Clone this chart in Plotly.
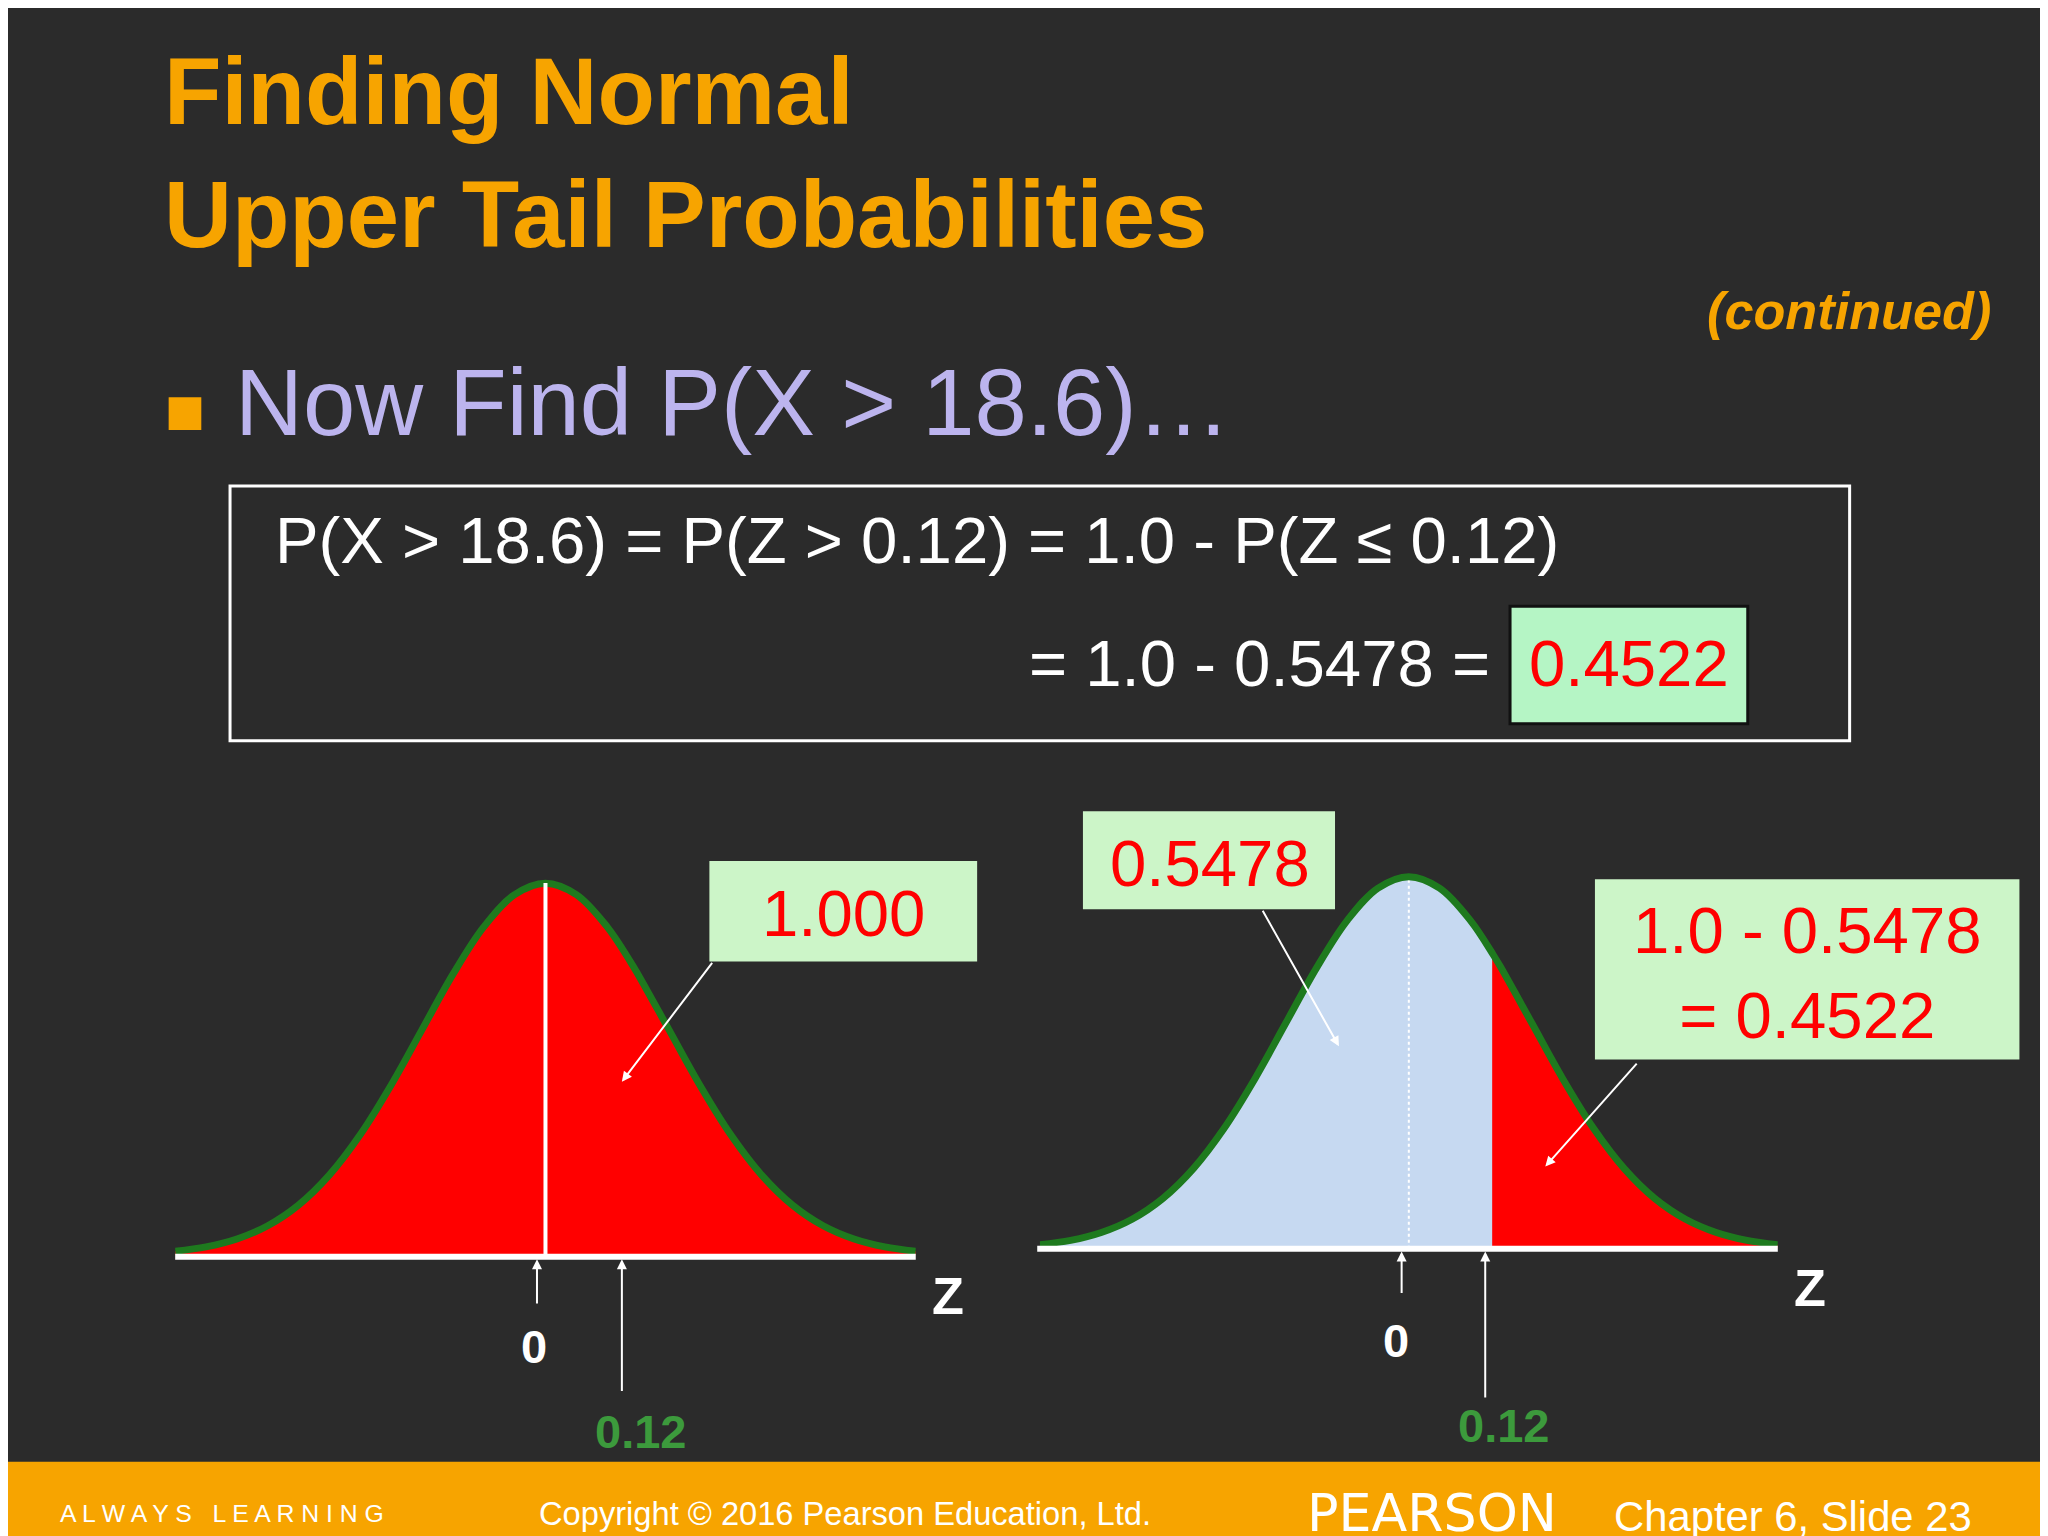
import plotly.graph_objects as go

# schematic standard-normal curve (z, density)
z_vals = [-3.0,-2.75,-2.5,-2.25,-2.0,-1.75,-1.5,-1.25,-1.0,-0.75,-0.5,-0.25,0.0,0.25,0.5,0.69,0.75,1.0,1.25,1.5,1.75,2.0,2.25,2.5,2.75,3.0]
dens = [0.00443,0.00909,0.01753,0.03174,0.05399,0.08628,0.12952,0.18265,0.24197,0.30114,0.35207,0.38667,0.39894,0.38667,0.35207,0.3144,0.30114,0.24197,0.18265,0.12952,0.08628,0.05399,0.03174,0.01753,0.00909,0.00443]
cut_z = 0.69          # schematic position of z = 0.12 in the sketch
cut_label = "0.12"
left_prob = "1.000"
lower_prob = "0.5478"
upper_text = "1.0 - 0.5478<br>= 0.4522"

W, H = 1568, 1176
S = 2048 / W
def px(x): return x / W
def py(y): return 1 - y / H

BG = "#2b2b2b"; ORANGE = "#F7A400"; RED = "#FF0000"; GREEN = "#1E7A1E"
LBLUE = "#C6D9F1"; CALL = "#CCF5C8"; FONT = "Liberation Sans, Arial"

fig = go.Figure()
lo = [(z, d) for z, d in zip(z_vals, dens) if z <= cut_z]
hi = [(z, d) for z, d in zip(z_vals, dens) if z >= cut_z]

# left chart
fig.add_trace(go.Scatter(x=z_vals, y=dens, fill="tozeroy", fillcolor=RED, mode="lines",
                         line=dict(color=GREEN, width=7, shape="spline"), xaxis="x", yaxis="y"))
fig.add_trace(go.Scatter(x=[0, 0], y=[0, 0.399], mode="lines", line=dict(color="white", width=4),
                         xaxis="x", yaxis="y"))
# right chart
fig.add_trace(go.Scatter(x=[p[0] for p in lo], y=[p[1] for p in lo], fill="tozeroy", fillcolor=LBLUE,
                         mode="lines", line=dict(color=LBLUE, width=0, shape="spline"), xaxis="x2", yaxis="y2"))
fig.add_trace(go.Scatter(x=[p[0] for p in hi], y=[p[1] for p in hi], fill="tozeroy", fillcolor=RED,
                         mode="lines", line=dict(color=RED, width=0, shape="spline"), xaxis="x2", yaxis="y2"))
fig.add_trace(go.Scatter(x=[cut_z, cut_z], y=[0, 0.3144], mode="lines", line=dict(color=RED, width=3),
                         xaxis="x2", yaxis="y2"))
fig.add_trace(go.Scatter(x=[0, 0], y=[0, 0.399], mode="lines", line=dict(color="white", width=2, dash="dot"),
                         xaxis="x2", yaxis="y2"))
fig.add_trace(go.Scatter(x=z_vals, y=dens, mode="lines", line=dict(color=GREEN, width=7, shape="spline"),
                         xaxis="x2", yaxis="y2"))

ax = dict(visible=False, range=[-3, 3], fixedrange=True)
fig.update_layout(
    width=2048, height=1536, paper_bgcolor=BG, plot_bgcolor="rgba(0,0,0,0)", showlegend=False,
    margin=dict(l=0, r=0, t=0, b=0),
    xaxis=dict(ax, domain=[px(128), px(695)]),
    yaxis=dict(visible=False, range=[0, 0.42], domain=[py(955), py(655)]),
    xaxis2=dict(ax, domain=[px(790), px(1355)]),
    yaxis2=dict(visible=False, range=[0, 0.42], domain=[py(950), py(650)]),
)

shapes = []
def rect(x0, y0, x1, y1, fill="rgba(0,0,0,0)", line="rgba(0,0,0,0)", lw=0):
    shapes.append(dict(type="rect", xref="paper", yref="paper", x0=px(x0), x1=px(x1), y0=py(y1), y1=py(y0),
                       fillcolor=fill, line=dict(color=line, width=lw), layer="above"))
def line(x0, y0, x1, y1, color="white", lw=6):
    shapes.append(dict(type="line", xref="paper", yref="paper", x0=px(x0), x1=px(x1), y0=py(y0), y1=py(y1),
                       line=dict(color=color, width=lw), layer="above"))
# axes
line(128, 956, 695, 956); line(788, 950, 1355, 950)
rect(123, 298, 148, 323, fill=ORANGE)
rect(170, 366, 1410, 561, line="white", lw=3)
rect(1150, 458, 1332, 548, fill="#B5F5C5", line="#111", lw=3)
rect(537, 653, 742, 730, fill=CALL)
rect(823, 615, 1016, 690, fill=CALL)
rect(1215, 667, 1540, 805, fill=CALL)
rect(0, 1113, 1568, 1176, fill=ORANGE)
fig.update_layout(shapes=shapes)

ann = []
def text(x, y, t, size, color="white", bold=False, xanchor="left", italic=False, family=FONT):
    if bold: t = f"<b>{t}</b>"
    if italic: t = f"<i>{t}</i>"
    ann.append(dict(xref="paper", yref="paper", x=px(x), y=py(y), text=t, showarrow=False, xanchor=xanchor,
                    yanchor="middle", font=dict(size=size * S, color=color, family=family)))
def arrow(x0, y0, x1, y1):
    ann.append(dict(xref="paper", yref="paper", axref="pixel", ayref="pixel", x=px(x1), y=py(y1),
                    ax=(x0 - x1) * S, ay=(y0 - y1) * S, text="", showarrow=True, arrowhead=2,
                    arrowsize=1, arrowwidth=2, arrowcolor="white"))

text(118, 64, "Finding Normal", 72, ORANGE, bold=True)
text(118, 158, "Upper Tail Probabilities", 72, ORANGE, bold=True)
text(1520, 232, "(continued)", 40, ORANGE, bold=True, italic=True, xanchor="right")
text(172, 302, "Now Find P(X > 18.6)…", 72, "#BCB4EE")
text(203, 408, "P(X > 18.6) = P(Z > 0.12) = 1.0 - P(Z ≤ 0.12)", 50)
text(780, 502, "= 1.0 - 0.5478 =", 50)
text(1241, 502, "0.4522", 50, RED, xanchor="center")
text(640, 693, left_prob, 50, RED, xanchor="center")
text(920, 655, lower_prob, 50, RED, xanchor="center")
text(1378, 739, upper_text, 50, RED, xanchor="center")
text(403, 1025, "0", 36, bold=True, xanchor="center")
text(485, 1090, cut_label, 36, "#3C9A3C", bold=True, xanchor="center")
text(720, 986, "Z", 40, bold=True, xanchor="center")
text(1063, 1020, "0", 36, bold=True, xanchor="center")
text(1145, 1085, cut_label, 36, "#3C9A3C", bold=True, xanchor="center")
text(1380, 980, "Z", 40, bold=True, xanchor="center")
text(38, 1153, "A L W A Y S   L E A R N I N G", 19)
text(405, 1153, "Copyright © 2016 Pearson Education, Ltd.", 25)
text(993, 1152, "PEARSON", 40, family="DejaVu Sans")
text(1228, 1155, "Chapter 6, Slide 23", 32)

arrow(405, 993, 405, 958)
arrow(470, 1060, 470, 958)
arrow(1067, 985, 1067, 952)
arrow(1131, 1065, 1131, 952)
arrow(540, 730, 470, 822)
arrow(960, 690, 1019, 795)
arrow(1248, 807, 1177, 887)
fig.update_layout(annotations=ann)

fig.write_html("out.html")
